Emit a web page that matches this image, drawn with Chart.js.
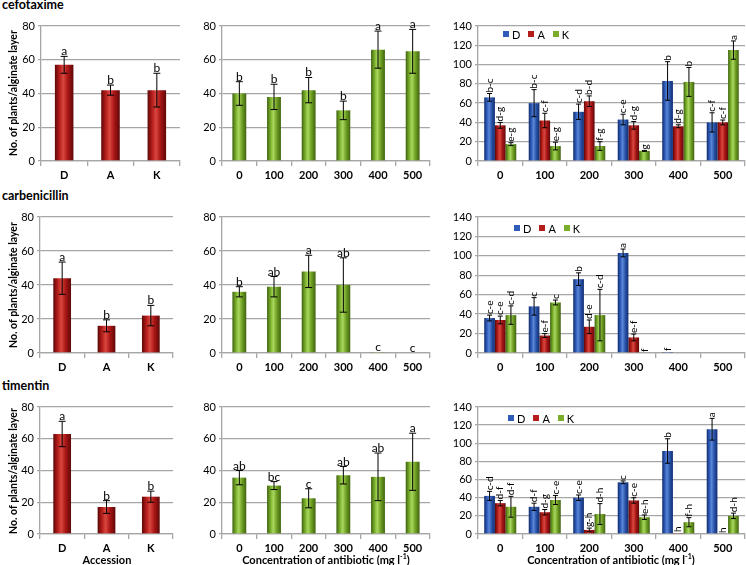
<!DOCTYPE html>
<html lang="en">
<head>
<meta charset="UTF-8">
<title>Plants per alginate layer under antibiotics</title>
<style>
  body { margin: 0; background: #fff; font-family: Lato, 'Open Sans', sans-serif; }
  #fig { position: relative; width: 746px; height: 565px; overflow: hidden; background: #fff; }
  #fig canvas { position: absolute; }
  .lbl { position: absolute; color: #000; white-space: nowrap; line-height: 1; }
  .title { font-weight: bold; font-size: 12.5px; left: 2px; }
  .ytitle { font-weight: bold; font-size: 10.5px; transform: translate(-50%, -50%) rotate(-90deg); }
  .xtitle { font-weight: bold; font-size: 11px; transform: translate(-50%, -50%); }
  .legend { position: absolute; height: 12px; font-size: 11px; display: flex; align-items: center; color: #000; }
  .legend i { display: inline-block; width: 6px; height: 6px; margin-right: 3px; }
  .legend span { margin-right: 8px; }
</style>
</head>
<body>
<div id="fig">
  <div class="lbl title" style="top:-1px">cefotaxime</div>
  <div class="lbl title" style="top:190px">carbenicillin</div>
  <div class="lbl title" style="top:380px">timentin</div>

  <div class="lbl ytitle" style="left:13px; top:93px">No. of plants/alginate layer</div>
  <div class="lbl ytitle" style="left:13px; top:285px">No. of plants/alginate layer</div>
  <div class="lbl ytitle" style="left:13px; top:471px">No. of plants/alginate layer</div>

  <div class="lbl xtitle" style="left:107px; top:559px">Accession</div>
  <div class="lbl xtitle" style="left:326px; top:559px">Concentration of antibiotic (mg l<sup style="font-size:7px">-1</sup>)</div>
  <div class="lbl xtitle" style="left:611px; top:559px">Concentration of antibiotic (mg l<sup style="font-size:7px">-1</sup>)</div>

  <div class="legend" style="left:503px; top:28px"><i style="background:#2f5cb8"></i><span>D</span><i style="background:#b51d1b"></i><span>A</span><i style="background:#7aae2a"></i><span>K</span></div>
  <div class="legend" style="left:514px; top:222px"><i style="background:#2f5cb8"></i><span>D</span><i style="background:#b51d1b"></i><span>A</span><i style="background:#7aae2a"></i><span>K</span></div>
  <div class="legend" style="left:508px; top:412px"><i style="background:#2f5cb8"></i><span>D</span><i style="background:#b51d1b"></i><span>A</span><i style="background:#7aae2a"></i><span>K</span></div>
</div>

<script src="https://cdn.jsdelivr.net/npm/chart.js"></script>
<script>
    const accessions = ['D', 'A', 'K'];
    const concentrations = ['0', '100', '200', '300', '400', '500'];

    // cefotaxime
    const cefAccMean = [57, 42, 42];
    const cefAccErr = [5, 3, 10];
    const cefAccSig = ['a', 'b', 'b'];
    const cefConcMean = [40, 38, 42, 30, 66, 65];
    const cefConcErr = [7, 7.5, 7.5, 5.5, 11, 13];
    const cefConcSig = ['b', 'b', 'b', 'b', 'a', 'a'];
    const cefD = [66, 60, 51, 43, 83, 40];
    const cefDErr = [4, 14, 8, 5.5, 20, 10];
    const cefDSig = ['b-c', 'b-c', 'c-d', 'c-e', 'b', 'c-f'];
    const cefA = [37, 42, 62, 37, 36, 40];
    const cefAErr = [3, 7.5, 5.5, 4, 1.5, 2.5];
    const cefASig = ['d-g', 'c-f', 'b-d', 'd-g', 'd-g', 'c-f'];
    const cefK = [17.5, 15.5, 15.5, 10.5, 82, 115];
    const cefKErr = [1.5, 4, 4.5, 0.5, 15, 9.5];
    const cefKSig = ['e-g', 'e-g', 'f-g', 'g', 'b', 'a'];

    // carbenicillin
    const carAccMean = [44, 16, 22];
    const carAccErr = [9.5, 3.5, 6];
    const carAccSig = ['a', 'b', 'b'];
    const carConcMean = [36, 39, 48, 40, 0.5, 0];
    const carConcErr = [3, 6, 9.5, 16, 0, 0];
    const carConcSig = ['b', 'ab', 'a', 'ab', 'c', 'c'];
    const carD = [36, 48, 76, 103, 1, 0];
    const carDErr = [3, 9, 6.5, 4, 0, 0];
    const carDSig = ['c-e', 'c', 'b', 'a', 'f', ''];
    const carA = [34, 18, 27, 16, 0, 0];
    const carAErr = [4, 2, 7, 3.5, 0, 0];
    const carASig = ['c-e', 'e-f', 'd-e', 'e-f', '', ''];
    const carK = [39, 52, 39, 0, 0, 0];
    const carKErr = [9.5, 2.5, 26.5, 0, 0, 0];
    const carKSig = ['c-d', 'c', 'c-d', 'f', '', ''];

    // timentin
    const timAccMean = [63, 17, 23.5];
    const timAccErr = [8, 4, 3.5];
    const timAccSig = ['a', 'b', 'b'];
    const timConcMean = [35.5, 30.5, 22.5, 37, 36, 45.5];
    const timConcErr = [4.5, 2.5, 6, 5.5, 15, 18];
    const timConcSig = ['ab', 'bc', 'c', 'ab', 'ab', 'a'];
    const timD = [42, 30, 40, 57, 91.5, 115.5];
    const timDErr = [5, 4, 3, 1.5, 13.5, 12];
    const timDSig = ['c-d', 'd-f', 'c-e', 'c', 'b', 'a'];
    const timA = [34, 24, 4.5, 37, 1, 0];
    const timAErr = [3, 3, 2, 3, 0, 0];
    const timASig = ['d-f', 'd-g', 'g-h', 'c-e', 'h', 'h'];
    const timK = [30, 37.5, 22, 18.5, 13, 20];
    const timKErr = [11.5, 5, 11.5, 2.5, 5, 3];
    const timKSig = ['d-f', 'c-e', 'd-h', 'e-h', 'f-h', 'd-h'];

    // shading stops for the "cylinder" look of the bars
    const shades = {
        red:   ['#5c0707', '#b51d1b', '#d9473f', '#a81515', '#5e0808'],
        green: ['#3d6110', '#7aae2a', '#a8d860', '#6f9f22', '#3f6410'],
        blue:  ['#0f2a6b', '#2f5cb8', '#5a86d8', '#2a54a8', '#102c70']
    };

    const YW = 32, PAD_TOP = 14, XH = 24;
    const GRID = '#a6a6a6';
    const fig = document.getElementById('fig');
    Chart.defaults.font.family = "Lato, 'Open Sans', sans-serif";

    const barDecor = {
        id: 'barDecor',
        beforeDatasetsDraw(chart) {
            const ctx = chart.ctx;
            chart.data.datasets.forEach((ds, i) => {
                const stops = shades[ds.shade];
                chart.getDatasetMeta(i).data.forEach(bar => {
                    const g = ctx.createLinearGradient(bar.x - bar.width / 2, 0, bar.x + bar.width / 2, 0);
                    [0, 0.25, 0.45, 0.7, 1].forEach((p, k) => g.addColorStop(p, stops[k]));
                    bar.options = Object.assign({}, bar.options, { backgroundColor: g });
                });
            });
        },
        afterDatasetsDraw(chart, args, opts) {
            const ctx = chart.ctx, y = chart.scales.y;
            ctx.save();
            chart.data.datasets.forEach((ds, i) => {
                chart.getDatasetMeta(i).data.forEach((bar, j) => {
                    const v = ds.data[j], e = ds.errors[j];
                    const top = y.getPixelForValue(v + e);
                    const bot = y.getPixelForValue(Math.max(0, v - e));
                    const x = bar.x;
                    if (e > 0) {
                        ctx.strokeStyle = '#000';
                        ctx.lineWidth = 1;
                        ctx.beginPath();
                        ctx.moveTo(x, top); ctx.lineTo(x, bot);
                        ctx.moveTo(x - opts.cap, top); ctx.lineTo(x + opts.cap, top);
                        ctx.moveTo(x - opts.cap, bot); ctx.lineTo(x + opts.cap, bot);
                        ctx.stroke();
                    }
                    const lab = ds.letters[j];
                    if (!lab) return;
                    ctx.fillStyle = '#000';
                    if (opts.rotated) {
                        ctx.save();
                        ctx.font = "10px Lato, 'Open Sans', sans-serif";
                        ctx.translate(x, top - 1);
                        ctx.rotate(-Math.PI / 2);
                        ctx.textAlign = 'left';
                        ctx.textBaseline = 'middle';
                        ctx.fillText(lab, 0, 0);
                        ctx.restore();
                    } else {
                        ctx.font = "12px Lato, 'Open Sans', sans-serif";
                        ctx.textAlign = 'center';
                        ctx.textBaseline = 'alphabetic';
                        ctx.fillText(lab, x, top - 1);
                    }
                });
            });
            ctx.restore();
        }
    };

    function panel(rect, labels, datasets, yMax, grouped) {
        const [L, T, R, B] = rect;
        const left = L - YW, top = T - PAD_TOP;
        const w = Math.min(746, R + 1) - left, h = B - top + XH;
        const cv = document.createElement('canvas');
        cv.width = w; cv.height = h;
        cv.style.left = left + 'px'; cv.style.top = top + 'px';
        cv.style.width = w + 'px'; cv.style.height = h + 'px';
        fig.insertBefore(cv, fig.firstChild);

        new Chart(cv, {
            type: 'bar',
            data: { labels: labels, datasets: datasets },
            options: {
                responsive: false,
                animation: false,
                events: [],
                layout: { padding: { top: PAD_TOP, right: w - (R - left), left: 0, bottom: 0 } },
                datasets: {
                    bar: grouped
                        ? { categoryPercentage: 0.72, barPercentage: 1 }
                        : { categoryPercentage: 0.4, barPercentage: 1 }
                },
                scales: {
                    x: {
                        grid: { offset: true, drawOnChartArea: false, tickLength: 5, color: GRID, lineWidth: 1.3 },
                        border: { color: GRID, width: 1.3 },
                        ticks: { color: '#000', font: { size: 11, weight: 'bold' }, padding: 3, maxRotation: 0 },
                        afterFit: s => { s.height = XH; }
                    },
                    y: {
                        min: 0, max: yMax,
                        ticks: { stepSize: 20, color: '#000', font: { size: 11 }, padding: 3 },
                        grid: { color: GRID, lineWidth: 1.3, tickLength: 3 },
                        border: { color: GRID, width: 1.3 },
                        afterFit: s => { s.width = YW; }
                    }
                },
                plugins: {
                    legend: false,
                    tooltip: false,
                    barDecor: { rotated: grouped, cap: grouped ? 2.5 : 3.5 }
                }
            },
            plugins: [barDecor]
        });
    }

    function single(data, errors, letters, shade) {
        return [{ data: data, errors: errors, letters: letters, shade: shade }];
    }
    function triple(d, dE, dS, a, aE, aS, k, kE, kS) {
        return [
            { label: 'D', data: d, errors: dE, letters: dS, shade: 'blue' },
            { label: 'A', data: a, errors: aE, letters: aS, shade: 'red' },
            { label: 'K', data: k, errors: kE, letters: kS, shade: 'green' }
        ];
    }

    // row 1: cefotaxime
    panel([41, 26, 180, 161], accessions, single(cefAccMean, cefAccErr, cefAccSig, 'red'), 80, false);
    panel([222, 26, 430, 161], concentrations, single(cefConcMean, cefConcErr, cefConcSig, 'green'), 80, false);
    panel([478, 26, 745, 161], concentrations,
        triple(cefD, cefDErr, cefDSig, cefA, cefAErr, cefASig, cefK, cefKErr, cefKSig), 140, true);

    // row 2: carbenicillin
    panel([40, 217, 173, 353], accessions, single(carAccMean, carAccErr, carAccSig, 'red'), 80, false);
    panel([222, 217, 430, 353], concentrations, single(carConcMean, carConcErr, carConcSig, 'green'), 80, false);
    panel([478, 217, 745, 353], concentrations,
        triple(carD, carDErr, carDSig, carA, carAErr, carASig, carK, carKErr, carKSig), 140, true);

    // row 3: timentin
    panel([40, 407, 173, 534], accessions, single(timAccMean, timAccErr, timAccSig, 'red'), 80, false);
    panel([222, 407, 430, 534], concentrations, single(timConcMean, timConcErr, timConcSig, 'green'), 80, false);
    panel([478, 407, 745, 534], concentrations,
        triple(timD, timDErr, timDSig, timA, timAErr, timASig, timK, timKErr, timKSig), 140, true);
</script>
</body>
</html>
